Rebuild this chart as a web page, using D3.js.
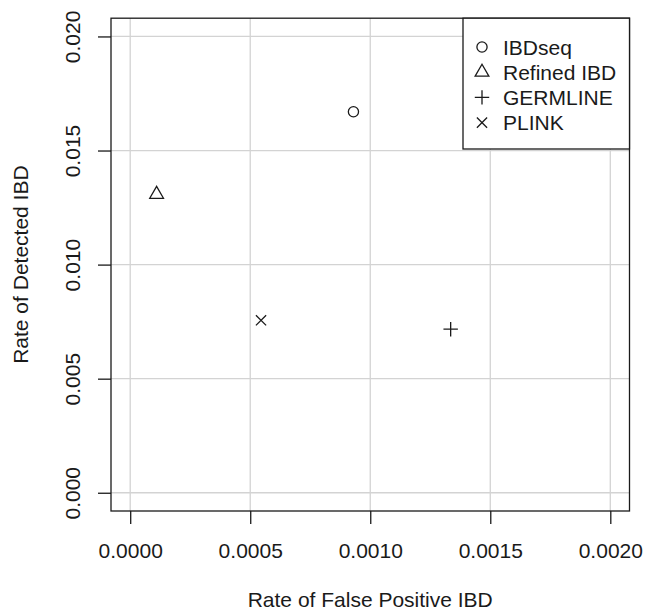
<!DOCTYPE html>
<html>
<head>
<meta charset="utf-8">
<script src="https://cdn.jsdelivr.net/npm/d3@7"></script>
<style>
  html, body { margin: 0; padding: 0; background: #fff; }
  svg { display: block; }
  text { font-family: "Liberation Sans", Arial, Helvetica, sans-serif; fill: #1a1a1a; }
</style>
</head>
<body>
<div id="chart"></div>
<script>
// Detection rate vs. false positive rate for four IBD detection methods
const methods = ["IBDseq", "Refined IBD", "GERMLINE", "PLINK"];
const falsePositiveRate = [0.00093, 0.00011, 0.001335, 0.000545];
const detectedRate = [0.0167, 0.01308, 0.00717, 0.00756];
const symbols = ["circle", "triangle", "plus", "cross"];

const xTicks = [0, 0.0005, 0.001, 0.0015, 0.002];
const yTicks = [0, 0.005, 0.01, 0.015, 0.02];
const xLimits = [0, 0.002];
const yLimits = [0, 0.02];

const W = 645, H = 610;
const box = { left: 111, right: 629.5, top: 18.2, bottom: 511 };
const ink = "#1a1a1a";
const fontSize = 21;

// plotting region extends 4% beyond the limits on each side
const pad = (l) => (l[1] - l[0]) * 0.04;
const x = d3.scaleLinear()
  .domain([xLimits[0] - pad(xLimits), xLimits[1] + pad(xLimits)])
  .range([box.left, box.right]);
const y = d3.scaleLinear()
  .domain([yLimits[0] - pad(yLimits), yLimits[1] + pad(yLimits)])
  .range([box.bottom, box.top]);

const svg = d3.select("#chart").append("svg")
  .attr("width", W).attr("height", H);

// grid
const grid = svg.append("g").attr("stroke", "#d3d3d3").attr("stroke-width", 1.3);
grid.selectAll("line.v").data(xTicks).join("line")
  .attr("class", "v")
  .attr("x1", d => x(d)).attr("x2", d => x(d))
  .attr("y1", box.top).attr("y2", box.bottom);
grid.selectAll("line.h").data(yTicks).join("line")
  .attr("class", "h")
  .attr("y1", d => y(d)).attr("y2", d => y(d))
  .attr("x1", box.left).attr("x2", box.right);

// axes
const xAxis = svg.append("g")
  .attr("transform", `translate(0,${box.bottom})`)
  .call(d3.axisBottom(x).tickValues(xTicks).tickSize(13).tickFormat(d3.format(".4f")));
xAxis.select(".domain").remove();
xAxis.selectAll("line").attr("stroke", ink).attr("stroke-width", 1.3);
xAxis.selectAll("text")
  .attr("y", 47).attr("dy", 0)
  .attr("font-size", fontSize)
  .style("font-family", "'Liberation Sans', Arial, sans-serif")
  .attr("fill", ink);

const yAxis = svg.append("g")
  .attr("transform", `translate(${box.left},0)`)
  .call(d3.axisLeft(y).tickValues(yTicks).tickSize(13).tickFormat(d3.format(".3f")));
yAxis.select(".domain").remove();
yAxis.selectAll("line").attr("stroke", ink).attr("stroke-width", 1.3);
yAxis.selectAll("text")
  .attr("x", 0).attr("dy", 0)
  .attr("transform", "translate(-31,0) rotate(-90)")
  .attr("text-anchor", "middle")
  .attr("font-size", fontSize)
  .style("font-family", "'Liberation Sans', Arial, sans-serif")
  .attr("fill", ink);

// frame
svg.append("rect")
  .attr("x", box.left).attr("y", box.top)
  .attr("width", box.right - box.left).attr("height", box.bottom - box.top)
  .attr("fill", "none").attr("stroke", ink).attr("stroke-width", 1.3);

// axis titles
svg.append("text")
  .attr("x", (box.left + box.right) / 2).attr("y", 607)
  .attr("text-anchor", "middle").attr("font-size", fontSize)
  .text("Rate of False Positive IBD");
svg.append("text")
  .attr("transform", `translate(28,${(box.top + box.bottom) / 2}) rotate(-90)`)
  .attr("text-anchor", "middle").attr("font-size", fontSize)
  .text("Rate of Detected IBD");

// plotting symbols (open circle, open triangle, plus, cross)
const r = 5.1;
function symbolPath(kind) {
  if (kind === "circle") {
    return `M${r},0A${r},${r} 0 1,1 ${-r},0A${r},${r} 0 1,1 ${r},0Z`;
  }
  if (kind === "triangle") {
    const t = 1.5551 * r;
    return `M0,${-t}L${t * 0.866},${t / 2}L${-t * 0.866},${t / 2}Z`;
  }
  if (kind === "plus") {
    const p = Math.SQRT2 * r;
    return `M${-p},0L${p},0M0,${-p}L0,${p}`;
  }
  return `M${-r},${-r}L${r},${r}M${-r},${r}L${r},${-r}`;
}

const points = methods.map((m, i) => ({
  name: m, fp: falsePositiveRate[i], det: detectedRate[i], sym: symbols[i]
}));

svg.append("g").selectAll("path").data(points).join("path")
  .attr("transform", d => `translate(${x(d.fp)},${y(d.det)})`)
  .attr("d", d => symbolPath(d.sym))
  .attr("fill", "none").attr("stroke", ink).attr("stroke-width", 1.3);

// legend
const legend = svg.append("g");
legend.append("rect")
  .attr("x", 463).attr("y", box.top)
  .attr("width", box.right - 463).attr("height", 149 - box.top)
  .attr("fill", "#fff").attr("stroke", ink).attr("stroke-width", 1.3);
const rows = legend.selectAll("g.row").data(points).join("g")
  .attr("class", "row")
  .attr("transform", (d, i) => `translate(0,${54.5 + i * 25.2})`);
rows.append("path")
  .attr("transform", "translate(482,-7.5)")
  .attr("d", d => symbolPath(d.sym))
  .attr("fill", "none").attr("stroke", ink).attr("stroke-width", 1.3);
rows.append("text")
  .attr("x", 503).attr("y", 0)
  .attr("font-size", fontSize)
  .text(d => d.name);
</script>
</body>
</html>
